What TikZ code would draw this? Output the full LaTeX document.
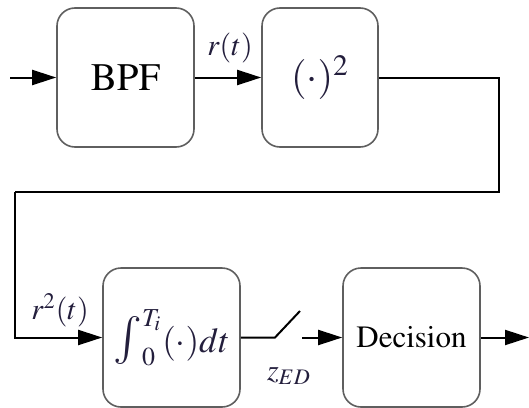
\documentclass[tikz,border=0pt]{standalone}
\usepackage[T1]{fontenc}
\usepackage{mathptmx}
\usetikzlibrary{arrows.meta, positioning}
\definecolor{boxcolor}{RGB}{95,95,95}
\definecolor{mathcolor}{RGB}{35,30,60}

\begin{document}
\begin{tikzpicture}[x=0.5pt, y=-0.5pt,
    block/.style={draw=boxcolor, line width=0.8pt, rounded corners=9pt,
      minimum width=68.5pt, minimum height=69.5pt, inner sep=0pt},
    signal/.style={line width=1pt},
    arrow/.style={signal, -{Triangle[length=12pt,width=7.5pt]}},
    lbl/.style={text=mathcolor, font=\fontsize{15}{15}\selectfont, inner sep=0pt}]
  \useasboundingbox (0,0) rectangle (529,407);

  % Draw the blocks
  \node[block] (bpf) at (125.5,77.5) {\fontsize{19.5}{20}\selectfont BPF};
  \node[block, minimum width=58pt] (sq) at (320,77.5)
    {\fontsize{20}{20}\selectfont\color{mathcolor}$(\cdot)^2$};
  \node[block] (integ) at (171.5,337.5)
    {\fontsize{17.5}{18}\selectfont\color{mathcolor}%
     $\mathop{\hbox{\fontsize{24}{24}\selectfont$\int$}}\nolimits_0^{T_i}(\cdot)dt$};
  \node[block] (dec) at (411.5,337.5) {\fontsize{15.5}{16}\selectfont Decision};

  % Corners of the wires
  \coordinate (in) at (10,77.5);
  \coordinate (c1) at (499,77.5);
  \coordinate (c2) at (499,192);
  \coordinate (c3) at (15,192);
  \coordinate (swa) at (275,337.5);
  \coordinate (swb) at (300,311);
  \coordinate (swc) at (302,337.5);
  \coordinate (out) at (529,337.5);

  % Draw the wires
  \draw[arrow] (in) -- (bpf.west);
  \draw[arrow] (bpf.east) -- (sq.west);
  \draw[signal] (sq.east) -- (c1) -- (c2) -- (c3);
  \draw[arrow] (c3) |- (integ.west);
  \draw[signal] (integ.east) -- (swa) -- (swb);
  \draw[arrow] (swc) -- (dec.west);
  \draw[arrow] (dec.east) -- (out);

  % Labels
  \node[lbl] (rt) at (230,48) {$r(t)$};
  \node[lbl] (r2t) at (60,310) {$r^2(t)$};
  \node[lbl] (zed) at (289,376) {$z_{ED}$};
\end{tikzpicture}
\end{document}
